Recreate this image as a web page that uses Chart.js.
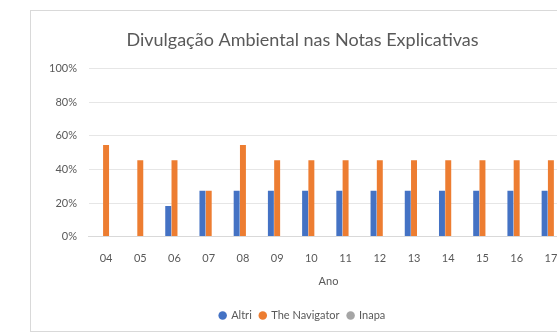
<!DOCTYPE html>
<html>
<head>
<meta charset="utf-8">
<script src="https://cdn.jsdelivr.net/npm/chart.js@4"></script>
<style>
  body { margin: 0; background: #fff; overflow: hidden; }
  #card {
    position: absolute; left: 30px; top: 10px;
    width: 552px; height: 320px;
    border: 1px solid #d9d9d9; background: #fff;
  }
</style>
</head>
<body>
<div id="card"><canvas id="myChart"></canvas></div>
<script>
const anos = ['04', '05', '06', '07', '08', '09', '10', '11', '12', '13', '14', '15', '16', '17'];
const altri = [0, 0, 0.182, 0.273, 0.273, 0.273, 0.273, 0.273, 0.273, 0.273, 0.273, 0.273, 0.273, 0.273];
const navigator = [0.545, 0.455, 0.455, 0.273, 0.545, 0.455, 0.455, 0.455, 0.455, 0.455, 0.455, 0.455, 0.455, 0.455];
const inapa = [0, 0, 0, 0, 0, 0, 0, 0, 0, 0, 0, 0, 0, 0];

Chart.defaults.font.family = 'Lato, "Open Sans", sans-serif';
Chart.defaults.color = '#595959';

const data = {
  labels: anos,
  datasets: [
    { label: 'Altri', data: altri, backgroundColor: '#4472C4' },
    { label: 'The Navigator', data: navigator, backgroundColor: '#ED7D31' },
    { label: 'Inapa', data: inapa, backgroundColor: '#A5A5A5' },
  ]
};

const config = {
  type: 'bar',
  data: data,
  options: {
    animation: false,
    responsive: true,
    maintainAspectRatio: false,
    datasets: {
      bar: { categoryPercentage: 0.55, barPercentage: 0.95 }
    },
    layout: { padding: { left: 6, right: 15, bottom: 0 } },
    plugins: {
      title: {
        display: true,
        text: 'Divulgação Ambiental nas Notas Explicativas',
        font: { size: 18, weight: 'normal' },
        color: '#595959',
        padding: { top: 18, bottom: 18 },
      },
      legend: {
        position: 'bottom',
        labels: {
          usePointStyle: true,
          pointStyle: 'circle',
          boxWidth: 6,
          boxHeight: 6,
          padding: 8,
          font: { size: 11 },
        },
      },
      tooltip: { enabled: false },
    },
    scales: {
      x: {
        grid: { display: false },
        border: { color: '#d9d9d9' },
        ticks: { font: { size: 11 }, padding: 7 },
        title: { display: true, text: 'Ano', font: { size: 11 }, padding: { top: 3, bottom: 14 } },
      },
      y: {
        min: 0,
        max: 1,
        grid: { color: '#e6e6e6', drawTicks: false },
        border: { display: false },
        ticks: {
          stepSize: 0.2,
          padding: 12,
          font: { size: 11 },
          callback: v => Math.round(v * 100) + '%',
        },
      },
    },
  },
};

const myChart = new Chart(document.getElementById('myChart'), config);
</script>
</body>
</html>
